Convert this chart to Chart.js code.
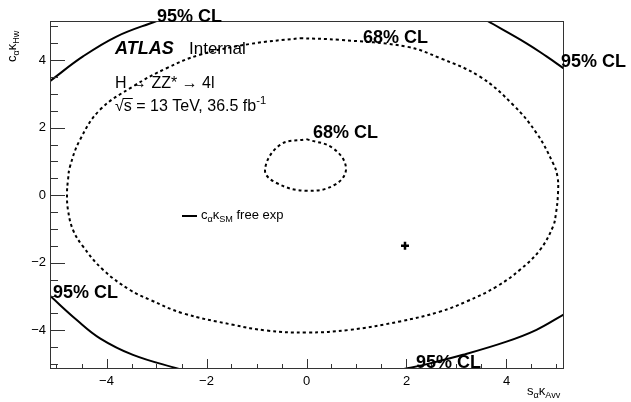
<!DOCTYPE html>
<html>
<head>
<meta charset="utf-8">
<script src="https://cdn.jsdelivr.net/npm/chart.js@4"></script>
<style>
  html, body { margin: 0; padding: 0; background: #fff; }
  #wrap { width: 631px; height: 402px; }
</style>
</head>
<body>
<div id="wrap"><canvas id="contourChart" width="631" height="402"></canvas></div>
<script>
// axis ranges and tick labels
var xRange = [-5.13, 5.15];
var yRange = [-5.15, 5.16];
var xTicks = [-4, -2, 0, 2, 4];
var yTicks = [-4, -2, 0, 2, 4];

// 68% CL contours (dashed)
var cl68Big = [
  [-0.13, 4.65], [0.67, 4.6], [2.0, 4.4], [2.67, 4.06], [3.47, 3.51], [4.13, 2.68],
  [4.6, 1.84], [4.93, 0.95], [5.02, 0.55], [5.03, 0.06], [4.99, -0.53], [4.93, -0.93],
  [4.67, -1.62], [4.27, -2.21], [3.8, -2.71], [3.2, -3.15], [2.67, -3.45], [1.87, -3.74],
  [0.87, -3.99], [0.0, -4.07], [-0.8, -4.01], [-1.47, -3.84], [-2.47, -3.5], [-3.13, -3.1],
  [-3.53, -2.81], [-4.07, -2.21], [-4.47, -1.52], [-4.67, -1.03], [-4.77, -0.44], [-4.79, 0.06],
  [-4.77, 0.45], [-4.73, 0.85], [-4.53, 1.64], [-4.13, 2.53], [-3.47, 3.22], [-2.8, 3.76],
  [-2.13, 4.16], [-1.13, 4.48], [-0.13, 4.65]
];
var cl68Small = [
  [0.0, 1.66], [0.53, 1.39], [0.79, 0.8], [0.57, 0.31], [0.0, 0.13],
  [-0.6, 0.36], [-0.83, 0.75], [-0.53, 1.49], [0.0, 1.66]
];

// 95% CL contour pieces (solid), one per corner
var cl95TopLeft = [[-5.13, 3.38], [-4.47, 4.11], [-3.8, 4.7], [-3.0, 5.16]];
var cl95TopRight = [[3.62, 5.16], [4.4, 4.5], [4.8, 4.11], [5.15, 3.75]];
var cl95BottomLeft = [[-5.13, -2.98], [-4.6, -3.69], [-4.13, -4.24], [-3.47, -4.73], [-2.55, -5.15]];
var cl95BottomRight = [[1.95, -5.15], [2.37, -5.02], [3.13, -4.73], [4.0, -4.34], [4.6, -3.99], [5.15, -3.53]];

// best fit point
var bestFit = [[1.97, -1.5]];

var FONT = '"Liberation Sans", Arial, Helvetica, sans-serif';

function toXY(pts) {
  return pts.map(function (p) { return { x: p[0], y: p[1] }; });
}

function fmtTick(v) {
  return v < 0 ? '\u2212' + Math.abs(v) : String(v);
}

function lineSet(pts, dashed) {
  return {
    data: toXY(pts),
    showLine: true,
    borderColor: '#000',
    borderWidth: 2,
    borderDash: dashed ? [3, 3] : [],
    pointRadius: 0,
    tension: 0.4,
    fill: false,
    clip: 0
  };
}

// text with subscript / superscript pieces: [text, shift, sizeFactor]
function richText(ctx, x, y, parts, size, weight) {
  var cx = x;
  parts.forEach(function (p) {
    var s = size * (p[2] || 1);
    ctx.font = (weight || '') + ' ' + s + 'px ' + FONT;
    ctx.fillText(p[0], cx, y + (p[1] || 0));
    cx += ctx.measureText(p[0]).width;
  });
  return cx;
}

var framePlugin = {
  id: 'frame',
  afterDatasetsDraw: function (chart) {
    var ctx = chart.ctx, a = chart.chartArea;
    var xs = chart.scales.x, ys = chart.scales.y;
    ctx.save();
    ctx.strokeStyle = '#333';
    ctx.lineWidth = 1;
    ctx.strokeRect(a.left + 0.5, a.top + 0.5, a.right - a.left - 1, a.bottom - a.top - 1);
    ctx.beginPath();
    for (var v = -5; v <= 5.001; v += 0.5) {
      var major = Math.abs(v % 2) < 0.001;
      var px = Math.round(xs.getPixelForValue(v)) + 0.5;
      ctx.moveTo(px, a.bottom);
      ctx.lineTo(px, a.bottom - (major ? 10 : 5));
      var py = Math.round(ys.getPixelForValue(v)) + 0.5;
      ctx.moveTo(a.left, py);
      ctx.lineTo(a.left + (major ? 15 : 8), py);
    }
    ctx.stroke();
    ctx.restore();
  }
};

var notesPlugin = {
  id: 'notes',
  afterDraw: function (chart) {
    var ctx = chart.ctx;
    ctx.save();
    ctx.fillStyle = '#000';
    ctx.textBaseline = 'alphabetic';
    ctx.textAlign = 'left';

    // ATLAS label
    ctx.font = 'italic bold 18px ' + FONT;
    ctx.fillText('ATLAS', 115, 54);
    ctx.font = '17px ' + FONT;
    ctx.fillText('Internal', 189, 54);
    ctx.font = '16px ' + FONT;
    ctx.fillText('H \u2192 ZZ* \u2192 4l', 115, 88);
    ctx.fillText('\u221A', 115, 111);
    var sx = 115 + ctx.measureText('\u221A').width;
    ctx.fillText('s', sx, 111);
    var sw = ctx.measureText('s').width;
    ctx.beginPath();
    ctx.lineWidth = 1;
    ctx.strokeStyle = '#000';
    ctx.moveTo(sx - 1, 98.5);
    ctx.lineTo(sx + sw + 1, 98.5);
    ctx.stroke();
    richText(ctx, sx + sw, 111, [[' = 13 TeV, 36.5 fb', 0, 1], ['-1', -7, 0.7]], 16);

    // CL labels
    ctx.font = 'bold 18px ' + FONT;
    ctx.fillText('95% CL', 157, 22);
    ctx.fillText('95% CL', 561, 67);
    ctx.fillText('95% CL', 53, 298);
    ctx.fillText('95% CL', 416, 368);
    ctx.fillText('68% CL', 363, 43);
    ctx.fillText('68% CL', 313, 138);

    // legend entry
    ctx.beginPath();
    ctx.lineWidth = 2;
    ctx.moveTo(182, 216);
    ctx.lineTo(197, 216);
    ctx.stroke();
    richText(ctx, 201, 219, [['c', 0, 1], ['\u03B1', 3, 0.7], ['\u03BA', 0, 1], ['SM', 3, 0.7], [' free exp', 0, 1]], 13);

    // axis titles
    richText(ctx, 527, 395, [['s', 0, 1], ['\u03B1', 3, 0.7], ['\u03BA', 0, 1], ['Avv', 3, 0.7]], 13);
    ctx.translate(16, 62);
    ctx.rotate(-Math.PI / 2);
    richText(ctx, 0, 0, [['c', 0, 1], ['\u03B1', 3, 0.7], ['\u03BA', 0, 1], ['Hw', 3, 0.7]], 13);
    ctx.restore();
  }
};

var tickFont = { family: FONT, size: 13 };

new Chart(document.getElementById('contourChart').getContext('2d'), {
  type: 'scatter',
  data: {
    datasets: [
      lineSet(cl68Big, true),
      lineSet(cl68Small, true),
      lineSet(cl95TopLeft, false),
      lineSet(cl95TopRight, false),
      lineSet(cl95BottomLeft, false),
      lineSet(cl95BottomRight, false),
      {
        data: toXY(bestFit),
        showLine: false,
        pointStyle: 'cross',
        pointRadius: 4,
        borderWidth: 2.5,
        borderColor: '#000',
        backgroundColor: '#000'
      }
    ]
  },
  options: {
    responsive: false,
    animation: false,
    events: [],
    layout: { padding: { left: 0, top: 21, right: 67, bottom: 0 } },
    plugins: { legend: { display: false }, tooltip: { enabled: false } },
    scales: {
      x: {
        type: 'linear',
        min: xRange[0],
        max: xRange[1],
        afterBuildTicks: function (s) { s.ticks = xTicks.map(function (v) { return { value: v }; }); },
        afterFit: function (s) { s.height = 33; },
        grid: { display: false, drawTicks: false },
        border: { display: false },
        ticks: { callback: fmtTick, font: tickFont, color: '#000', padding: 5, maxRotation: 0, autoSkip: false }
      },
      y: {
        type: 'linear',
        min: yRange[0],
        max: yRange[1],
        afterBuildTicks: function (s) { s.ticks = yTicks.map(function (v) { return { value: v }; }); },
        afterFit: function (s) { s.width = 50; },
        grid: { display: false, drawTicks: false },
        border: { display: false },
        ticks: { callback: fmtTick, font: tickFont, color: '#000', padding: 4, autoSkip: false }
      }
    }
  },
  plugins: [framePlugin, notesPlugin]
});
</script>
</body>
</html>
